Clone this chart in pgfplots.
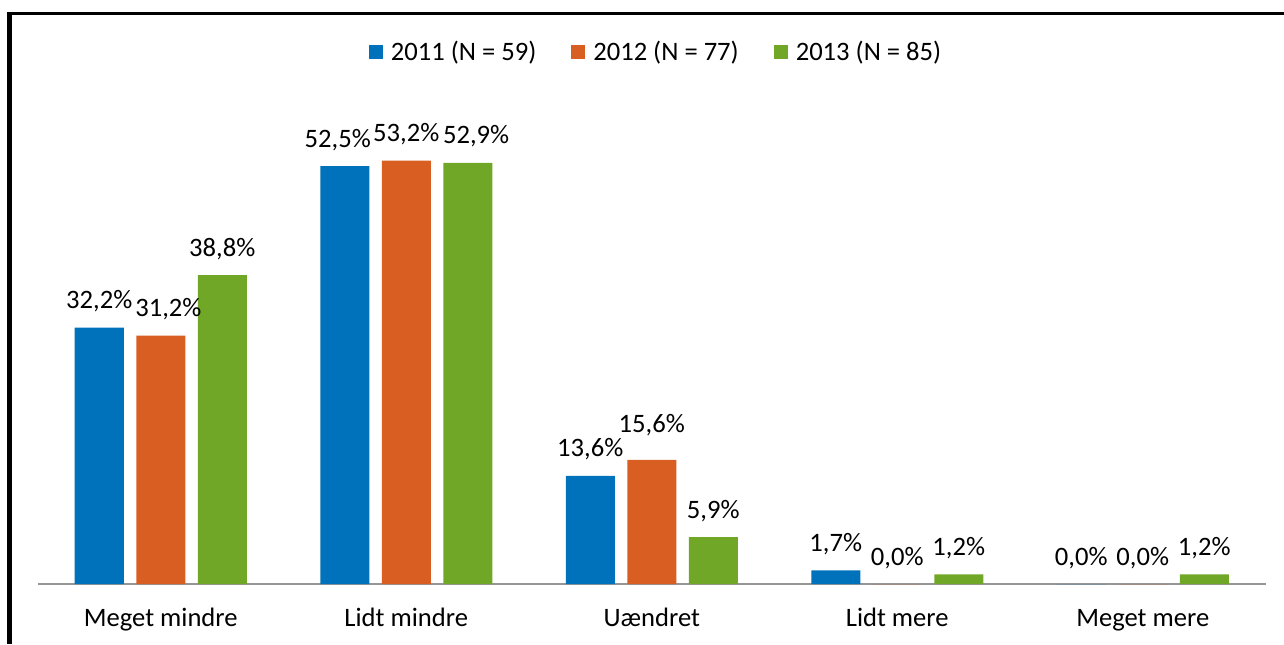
\documentclass[border=0pt]{standalone}
\usepackage{fontspec}
\setmainfont{Carlito}
\usepackage{pgfplots}
\usepackage{pgfplotstable}
\pgfplotsset{compat=1.18}
\definecolor{c2011}{RGB}{0,114,187}
\definecolor{c2012}{RGB}{216,94,34}
\definecolor{c2013}{RGB}{113,167,39}
\definecolor{basegray}{RGB}{150,150,150}

% x = category index, y = percent, dx/dy = label nudge (pt)
\pgfplotstableread{
x y dx dy
0 32.2 0 0
1 52.5 -3.5 0
2 13.6 0 0
3 1.7 0 0
4 0.0 0 0
}\tabA
\pgfplotstableread{
x y dx dy
0 31.2 3.8 0
1 53.2 0 0
2 15.6 0 4
3 0.0 0 0
4 0.0 0 0
}\tabB
\pgfplotstableread{
x y dx dy
0 38.8 0 0
1 52.9 4.2 0
2 5.9 0 0
3 1.2 0 0
4 1.2 0 0
}\tabC

\begin{document}
\begin{tikzpicture}
\useasboundingbox (-19pt,-30pt) rectangle (623pt,292pt);
\begin{axis}[
  at={(0,0)}, anchor=south west,
  scale only axis, width=613.75pt, height=238.8pt,
  ybar=6.25pt, bar width=24.5pt,
  xmin=-0.5, xmax=4.5, ymin=0, ymax=60,
  xtick={0,1,2,3,4},
  xticklabels={Meget mindre, Lidt mindre, Uændret, Lidt mere, Meget mere},
  ytick=\empty,
  axis y line=none, axis x line*=bottom,
  x axis line style={draw=basegray, line width=1pt, -},
  xtick style={draw=none}, major tick length=0pt,
  xticklabel style={font=\fontsize{13.3}{15}\selectfont, anchor=base, yshift=-21.3pt},
  visualization depends on={\thisrow{dx} \as \dx},
  visualization depends on={\thisrow{dy} \as \dy},
  nodes near coords={\pgfmathprintnumber[fixed,fixed zerofill,precision=1,use comma,assume math mode=true]{\pgfplotspointmeta}\%},
  every node near coord/.append style={font=\fontsize{13.3}{15}\selectfont, text=black, anchor=base, yshift=9.5pt+\dy pt, xshift=\dx pt},
  legend columns=3,
  legend style={at={(0.5043,1.113)}, anchor=center, draw=none, fill=none,
    font=\fontsize{13.3}{15}\selectfont,
    /tikz/every odd column/.append style={column sep=2pt},
    /tikz/every even column/.append style={column sep=15.5pt}},
  legend image code/.code={\fill[#1] (0pt,-3.5pt) rectangle (7pt,3.5pt);},
]
\addplot[fill=c2011, draw=none] table[x=x, y=y] {\tabA};
\addlegendentry{2011 (N = 59)}
\addplot[fill=c2012, draw=none] table[x=x, y=y] {\tabB};
\addlegendentry{2012 (N = 77)}
\addplot[fill=c2013, draw=none] table[x=x, y=y] {\tabC};
\addlegendentry{2013 (N = 85)}
\end{axis}
% outer frame: left and top edges only
\draw[line width=2.5pt] (-14.4pt,-30pt) -- (-14.4pt,285.1pt);
\draw[line width=1.5pt] (-15.65pt,285.1pt) -- (623pt,285.1pt);
\end{tikzpicture}
\end{document}
